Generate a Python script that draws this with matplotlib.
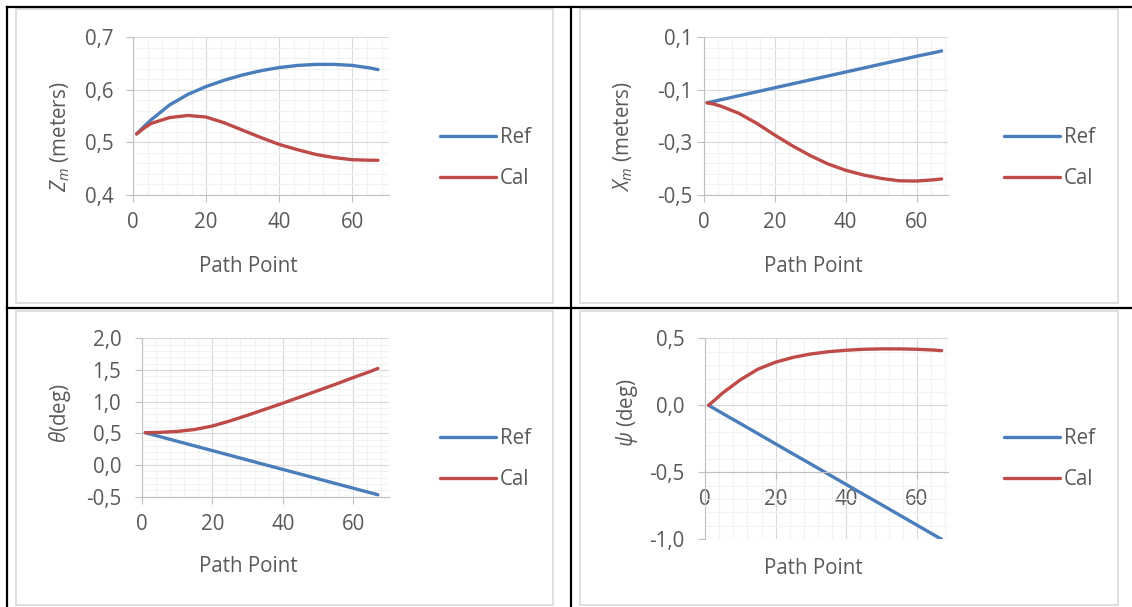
import matplotlib
matplotlib.use("Agg")
import matplotlib.pyplot as plt
from matplotlib.lines import Line2D
from matplotlib.patches import Rectangle
from matplotlib.ticker import MultipleLocator, FuncFormatter

W, H = 1132, 607

# path point samples and the four pose components (reference vs calibrated)
path_pt = [1, 3, 5, 10, 15, 20, 25, 30, 35, 40, 45, 50, 55, 60, 65, 67]
zm_ref = [0.516, 0.530, 0.543, 0.571, 0.591, 0.606, 0.618, 0.628, 0.636, 0.642, 0.646, 0.648, 0.648, 0.646, 0.641, 0.638]
zm_cal = [0.516, 0.527, 0.536, 0.547, 0.551, 0.548, 0.537, 0.523, 0.509, 0.496, 0.486, 0.477, 0.471, 0.467, 0.466, 0.466]
xm_ref = [-0.150, -0.144, -0.138, -0.123, -0.108, -0.093, -0.078, -0.063, -0.048, -0.033, -0.018, -0.003, 0.012, 0.027, 0.041, 0.047]
xm_cal = [-0.150, -0.155, -0.163, -0.190, -0.228, -0.272, -0.313, -0.350, -0.382, -0.406, -0.424, -0.437, -0.446, -0.447, -0.442, -0.439]
theta_ref = [0.510, 0.480, 0.451, 0.376, 0.302, 0.228, 0.154, 0.079, 0.005, -0.069, -0.143, -0.218, -0.292, -0.366, -0.440, -0.470]
theta_cal = [0.510, 0.512, 0.515, 0.530, 0.560, 0.615, 0.695, 0.785, 0.880, 0.975, 1.075, 1.175, 1.275, 1.380, 1.480, 1.525]
psi_ref = [0.000, -0.030, -0.061, -0.136, -0.212, -0.288, -0.364, -0.439, -0.515, -0.591, -0.667, -0.742, -0.818, -0.894, -0.970, -1.000]
psi_cal = [0.000, 0.045, 0.092, 0.190, 0.270, 0.322, 0.358, 0.383, 0.400, 0.411, 0.418, 0.421, 0.421, 0.418, 0.412, 0.408]

series_names = ["Ref", "Cal"]
x_ticks = [0, 20, 40, 60]

plt.rcParams["font.family"] = ["Open Sans", "DejaVu Sans"]
plt.rcParams["mathtext.fontset"] = "custom"
plt.rcParams["mathtext.it"] = "Open Sans:italic"
plt.rcParams["mathtext.rm"] = "Open Sans"

FS = 14.8
TXT = "#595959"
BLUE = "#4A7EBB"
RED = "#BE4B48"


def fx(x):
    return x / W


def fy(y):
    return 1 - y / H


def comma(v, pos=None):
    return f"{v:.1f}".replace(".", ",").replace("-0,0", "0,0")


fig = plt.figure(figsize=(W / 100, H / 100), dpi=100)

# table grid lines and chart frames
for x0, y0, x1, y1 in [(7, 7, 7, 607), (570.5, 7, 570.5, 607), (7, 7, 1132, 7), (7, 307.5, 1132, 307.5)]:
    fig.add_artist(Line2D([fx(x0), fx(x1)], [fy(y0), fy(y1)], color="black", lw=1.6))
for l, t, r, b in [(16, 9, 553, 303), (580, 9, 1118, 303), (16, 311, 553, 605), (580, 311, 1118, 605)]:
    fig.add_artist(Rectangle((fx(l), fy(b)), fx(r) - fx(l), (b - t) / H, fill=False,
                             edgecolor="#D9D9D9", lw=1.2, transform=fig.transFigure))

charts = [
    # ref, cal, ylabel, ylim, (major, offset), (minor, offset), xmax, box(l,t,r,b),
    # ylabel xy, xlabel xy, legend xy, ypad, x cross
    (zm_ref, zm_cal, r"$Z_m$ (meters)", (0.4, 0.7), (0.1, 0), (0.02, 0), 70,
     (133, 37, 389, 195), (60, 137), (248, 267), (440, 158), 9.5, None),
    (xm_ref, xm_cal, r"$X_m$ (meters)", (-0.5, 0.1), (0.2, 0.1), (0.04, 0.02), 68.8,
     (703.5, 37, 948, 195), (623, 137), (813, 267), (1004, 158), 3.0, None),
    (theta_ref, theta_cal, r"$\theta$(deg)", (-0.5, 2.0), (0.5, 0), (0.1, 0), 70,
     (141.7, 338.3, 388.5, 496.7), (60, 413), (248, 567), (440, 459), 10.0, None),
    (psi_ref, psi_cal, r"$\psi$ (deg)", (-1.0, 0.5), (0.5, 0), (0.1, 0), 68.8,
     (705, 338.3, 948, 539.3), (627, 413), (813, 568), (1004, 459), 10.0, -0.5),
]

for ref, cal, ylab, ylim, major, minor, xmax, box, ylpos, xlpos, lgpos, ypad, cross in charts:
    l, t, r, b = box
    ax = fig.add_axes([fx(l), fy(b), fx(r) - fx(l), (b - t) / H])
    h1, = ax.plot(path_pt, ref, color=BLUE, lw=2.4, solid_capstyle="round", solid_joinstyle="round")
    h2, = ax.plot(path_pt, cal, color=RED, lw=2.4, solid_capstyle="round", solid_joinstyle="round")
    ax.set_xlim(0, xmax)
    ax.set_ylim(*ylim)
    ax.set_xticks(x_ticks)
    ax.xaxis.set_minor_locator(MultipleLocator(4))
    ax.yaxis.set_major_locator(MultipleLocator(*major))
    ax.yaxis.set_minor_locator(MultipleLocator(*minor))
    ax.yaxis.set_major_formatter(FuncFormatter(comma))
    ax.set_axisbelow(True)
    ax.grid(which="major", color="#D9D9D9", lw=0.8)
    ax.grid(which="minor", color="#F2F2F2", lw=0.8)
    for side in ["top", "right"]:
        ax.spines[side].set_visible(False)
    for side in ["left", "bottom"]:
        ax.spines[side].set_color("#BFBFBF")
        ax.spines[side].set_linewidth(0.8)
    if cross is not None:
        ax.spines["bottom"].set_position(("data", cross))
    ax.tick_params(which="major", direction="out", length=4.8, width=0.8, color="#BFBFBF",
                   labelcolor=TXT, labelsize=FS)
    ax.tick_params(axis="y", which="major", pad=ypad)
    ax.tick_params(axis="x", which="major", pad=7.5)
    ax.tick_params(which="minor", length=0)

    fig.text(fx(ylpos[0]), fy(ylpos[1]), ylab, rotation=90, ha="center", va="center",
             color=TXT, fontsize=FS)
    fig.text(fx(xlpos[0]), fy(xlpos[1]), "Path Point", ha="center", va="center",
             color=TXT, fontsize=FS)
    ax.legend([h1, h2], series_names, loc="center left", bbox_to_anchor=(fx(lgpos[0]), fy(lgpos[1])),
              bbox_transform=fig.transFigure, frameon=False, fontsize=FS, labelcolor=TXT,
              handlelength=2.7, handletextpad=0.2, labelspacing=0.95, borderpad=0, borderaxespad=0)

fig.savefig("out.png", dpi=100)
